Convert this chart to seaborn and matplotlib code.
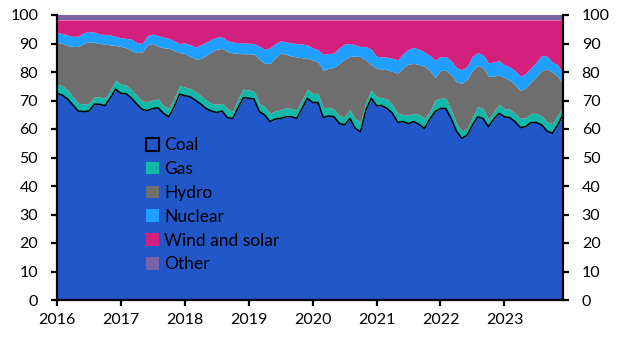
import matplotlib
matplotlib.use("Agg")
import matplotlib.pyplot as plt
from matplotlib.patches import Patch
import seaborn as sns
import pandas as pd
import numpy as np

# Monthly shares of power generation (%), Jan 2016 - Dec 2023
months = pd.date_range("2016-01-01", "2023-12-01", freq="MS")

coal = [72.5, 71.9, 70.5, 68.4, 66.3, 66.1, 66.3, 68.7, 68.7, 68.2, 70.8, 74.0,
        72.5, 72.4, 70.8, 68.7, 66.9, 66.5, 67.2, 67.4, 65.5, 64.3, 67.8, 72.2,
        71.7, 71.3, 70.1, 68.7, 67.2, 66.3, 65.8, 66.3, 64.0, 63.7, 67.5, 71.0,
        70.8, 70.5, 66.1, 64.9, 62.6, 63.5, 63.7, 64.3, 64.3, 63.7, 67.2, 70.8,
        69.3, 69.3, 64.0, 64.6, 64.3, 62.0, 61.4, 63.7, 60.2, 59.1, 66.7, 70.8,
        68.2, 68.2, 67.2, 65.5, 62.3, 62.6, 61.9, 62.6, 61.6, 60.2, 63.5, 66.1,
        67.2, 67.2, 63.7, 59.3, 56.7, 57.9, 61.4, 64.3, 63.7, 60.8, 63.5, 65.5,
        64.3, 64.0, 62.6, 60.5, 60.8, 62.3, 62.3, 61.4, 59.3, 58.5, 61.4, 65.1]

gas = [3.2, 3.3, 3.2, 2.9, 2.7, 2.7, 2.7, 2.6, 2.6, 2.6, 2.9, 3.1,
       3.2, 3.0, 2.9, 3.0, 2.9, 3.1, 3.0, 3.1, 2.7, 2.9, 3.0, 3.0,
       3.0, 2.9, 3.0, 3.0, 3.0, 2.7, 2.9, 2.7, 3.2, 2.4, 3.3, 3.0,
       2.9, 2.8, 2.9, 2.9, 2.9, 2.8, 3.0, 3.2, 2.9, 3.0, 3.0, 3.2,
       3.2, 3.2, 3.5, 3.0, 2.7, 2.6, 2.9, 3.0, 3.3, 3.5, 2.9, 2.9,
       3.1, 2.8, 3.3, 2.9, 3.2, 2.5, 3.0, 2.9, 3.5, 3.5, 2.6, 4.1,
       3.6, 3.6, 3.0, 2.7, 2.6, 2.3, 2.9, 3.5, 3.5, 2.7, 2.6, 3.2,
       2.9, 3.0, 2.9, 3.2, 3.2, 3.2, 3.2, 3.2, 3.3, 3.4, 3.5, 2.7]

hydro = [14.7, 14.8, 15.6, 17.7, 19.9, 21.2, 21.6, 19.1, 18.7, 19.0, 15.8, 12.2,
         13.3, 13.1, 13.8, 15.1, 17.2, 19.9, 19.8, 18.5, 20.3, 21.1, 16.7, 11.6,
         11.8, 11.3, 11.5, 13.0, 15.6, 18.0, 19.3, 19.3, 20.0, 20.6, 15.7, 12.4,
         12.7, 13.0, 15.5, 15.2, 17.6, 18.7, 20.0, 18.7, 18.4, 18.6, 14.8, 10.8,
         11.7, 11.0, 13.1, 13.7, 14.6, 18.4, 20.2, 18.8, 22.1, 22.8, 14.6, 8.8,
         10.0, 10.0, 10.3, 11.8, 14.1, 16.4, 17.9, 17.5, 17.5, 18.3, 14.4, 7.8,
         9.8, 9.8, 12.3, 14.5, 16.7, 17.3, 16.2, 14.5, 14.3, 15.0, 12.4, 10.3,
         10.8, 10.2, 10.0, 9.8, 10.5, 11.0, 13.0, 15.9, 18.4, 18.1, 13.6, 8.0]

nuclear = [3.4, 3.5, 3.7, 3.5, 3.7, 3.8, 3.6, 3.6, 3.3, 3.4, 3.5, 3.2,
           3.0, 3.3, 4.0, 3.5, 3.0, 3.3, 3.3, 3.8, 3.7, 3.5, 3.5, 3.2,
           3.7, 4.1, 4.2, 4.8, 4.7, 4.5, 4.2, 4.0, 3.8, 3.8, 3.8, 3.8,
           3.7, 3.7, 4.5, 5.0, 5.4, 5.0, 4.2, 4.4, 4.6, 4.7, 4.8, 4.7,
           4.3, 4.3, 5.6, 5.2, 5.0, 5.5, 5.3, 4.5, 3.9, 3.5, 4.8, 5.5,
           4.2, 4.3, 4.4, 4.6, 4.7, 5.0, 5.2, 5.6, 5.4, 5.0, 5.3, 6.2,
           4.8, 4.8, 5.0, 5.0, 4.8, 4.5, 5.0, 4.5, 4.5, 4.7, 5.0, 5.0,
           4.5, 4.6, 5.0, 5.0, 5.0, 5.0, 5.0, 5.3, 4.5, 3.5, 4.0, 3.7]

wind_solar = [4.5, 4.8, 5.3, 5.8, 5.7, 4.5, 4.1, 4.3, 5.0, 5.1, 5.3, 5.8,
              6.3, 6.5, 6.8, 8.0, 8.3, 5.5, 5.0, 5.5, 6.1, 6.5, 7.3, 8.3,
              8.1, 8.7, 9.5, 8.8, 7.8, 6.8, 6.1, 6.0, 7.3, 7.8, 8.0, 8.1,
              8.2, 8.3, 9.3, 10.3, 9.8, 8.3, 7.4, 7.7, 8.1, 8.3, 8.5, 8.8,
              9.8, 10.5, 12.1, 11.8, 11.7, 9.8, 8.5, 8.3, 8.8, 9.4, 9.3, 10.3,
              12.8, 13.0, 13.1, 13.5, 14.0, 11.8, 10.3, 9.7, 10.3, 11.3, 12.5, 14.1,
              12.9, 12.9, 14.3, 16.8, 17.5, 16.3, 12.8, 11.5, 12.3, 15.1, 14.8, 14.3,
              15.8, 16.5, 17.8, 19.8, 18.8, 16.8, 14.8, 12.5, 12.8, 14.8, 15.8, 18.8]

other = [1.7] * 96

labels = ["Coal", "Gas", "Hydro", "Nuclear", "Wind and solar", "Other"]
colors = ["#2157C9", "#12B9A8", "#6E6E6E", "#1F9FFF", "#D3207D", "#7962A6"]
year_ticks = list(range(2016, 2024))

df = pd.DataFrame({"date": months, "Coal": coal, "Gas": gas, "Hydro": hydro,
                   "Nuclear": nuclear, "Wind and solar": wind_solar, "Other": other})
df["t"] = df["date"].dt.year + (df["date"].dt.month - 1) / 12.0

sns.set_theme(style="ticks")
plt.rcParams["font.family"] = ["Lato", "DejaVu Sans"]

fig = plt.figure(figsize=(6.31, 3.53), dpi=100)
ax = fig.add_axes([57 / 631, 1 - 300 / 353, (563 - 57) / 631, (300 - 15) / 353])

ax.stackplot(df["t"], [df[l] for l in labels], colors=colors, linewidth=0)
sns.lineplot(x=df["t"], y=df["Coal"], ax=ax, color="black", linewidth=1.1)

ax.set_xlim(df["t"].iloc[0], df["t"].iloc[-1])
ax.set_ylim(0, 100)
ax.set_xticks(year_ticks)
ax.set_xticklabels([str(y) for y in year_ticks])
ax.set_yticks(range(0, 101, 10))
ax.set_xlabel("")
ax.set_ylabel("")

for s in ["left", "right", "bottom"]:
    ax.spines[s].set_visible(True)
    ax.spines[s].set_linewidth(1.6)
    ax.spines[s].set_color("black")
ax.spines["top"].set_visible(False)

ax.tick_params(axis="both", which="both", direction="out", length=4.5, width=1.6,
               color="black", labelsize=11.5, labelcolor="black", pad=3)
ax.tick_params(axis="y", left=True, right=True, labelleft=True, labelright=True, pad=9)
ax.tick_params(axis="x", pad=5)

handles = [Patch(facecolor=colors[0], edgecolor="black", linewidth=1.5)] + \
          [Patch(facecolor=c, edgecolor="none") for c in colors[1:]]
leg = ax.legend(handles, labels, loc="upper left", bbox_to_anchor=(0.162, 0.595),
                frameon=False, fontsize=12.5, handlelength=0.75, handleheight=0.75,
                handletextpad=0.3, labelspacing=0.45, borderaxespad=0)
for t in leg.get_texts():
    t.set_color("black")

fig.savefig("out.png", dpi=100)
